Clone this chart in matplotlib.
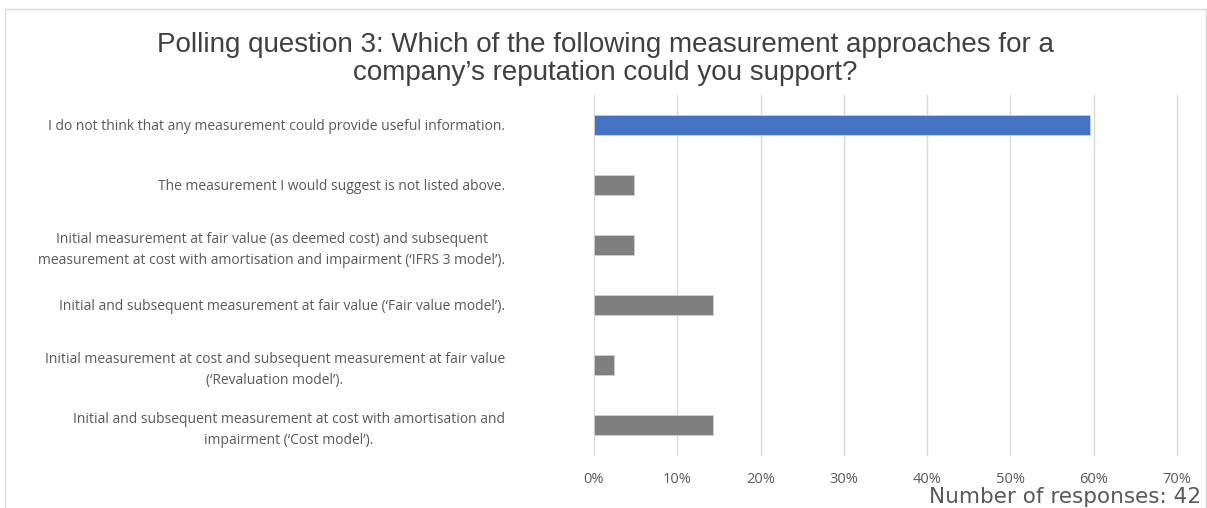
import matplotlib
matplotlib.use("Agg")
import matplotlib.pyplot as plt
from matplotlib.patches import Rectangle
from matplotlib.ticker import PercentFormatter

categories = [
    "I do not think that any measurement could provide useful information.",
    "The measurement I would suggest is not listed above.",
    "Initial measurement at fair value (as deemed cost) and subsequent\nmeasurement at cost with amortisation and impairment (\u2018IFRS 3 model\u2019).",
    "Initial and subsequent measurement at fair value (\u2018Fair value model\u2019).",
    "Initial measurement at cost and subsequent measurement at fair value\n(\u2018Revaluation model\u2019).",
    "Initial and subsequent measurement at cost with amortisation and\nimpairment (\u2018Cost model\u2019).",
]
responses = [25, 2, 2, 6, 1, 6]
total_responses = 42
shares = [100 * r / total_responses for r in responses]
bar_colors = ["#4472C4", "#7F7F7F", "#7F7F7F", "#7F7F7F", "#7F7F7F", "#7F7F7F"]
x_ticks = [0, 10, 20, 30, 40, 50, 60, 70]

text_color = "#595959"
plt.rcParams["font.family"] = ["Open Sans", "DejaVu Sans"]

fig = plt.figure(figsize=(12.07, 5.08), dpi=100)
fig.patches.append(Rectangle((0.004, -0.01), 0.995, 0.993, transform=fig.transFigure,
                             fill=False, edgecolor="#D9D9D9", linewidth=1.0))

ax = fig.add_axes([594 / 1207, 1 - 455 / 508, (1177 - 594) / 1207, 360 / 508])
y = list(range(len(categories)))
ax.barh(y, shares, height=0.34, color=bar_colors, edgecolor="#D0D0D0", linewidth=0.6, zorder=3)
ax.set_ylim(len(categories) - 0.5, -0.5)
ax.set_xlim(0, 70)
ax.set_xticks(x_ticks)
ax.xaxis.set_major_formatter(PercentFormatter(decimals=0))
ax.set_yticks(y)
ax.set_yticklabels(categories, fontsize=10, color=text_color, multialignment="center",
                   linespacing=1.55)
ax.tick_params(axis="y", length=0, pad=64)
ax.tick_params(axis="x", length=0, pad=12, labelsize=10.5, labelcolor=text_color)
ax.grid(axis="x", color="#D9D9D9", linewidth=1.0, zorder=0)
for line in ax.get_xgridlines():
    line.set_clip_on(False)
for s in ax.spines.values():
    s.set_visible(False)

fig.text(605 / 1207, 1 - 59 / 508,
         "Polling question 3: Which of the following measurement approaches for a\ncompany\u2019s reputation could you support?",
         ha="center", va="center", fontsize=20, color="#404040", family=["Liberation Sans", "DejaVu Sans"],
         linespacing=1.1)
fig.text(1201 / 1207, 1 - 497 / 508, f"Number of responses: {total_responses}",
         ha="right", va="center", fontsize=15.5, color=text_color, family=["DejaVu Sans"])

fig.savefig("out.png", dpi=100)
